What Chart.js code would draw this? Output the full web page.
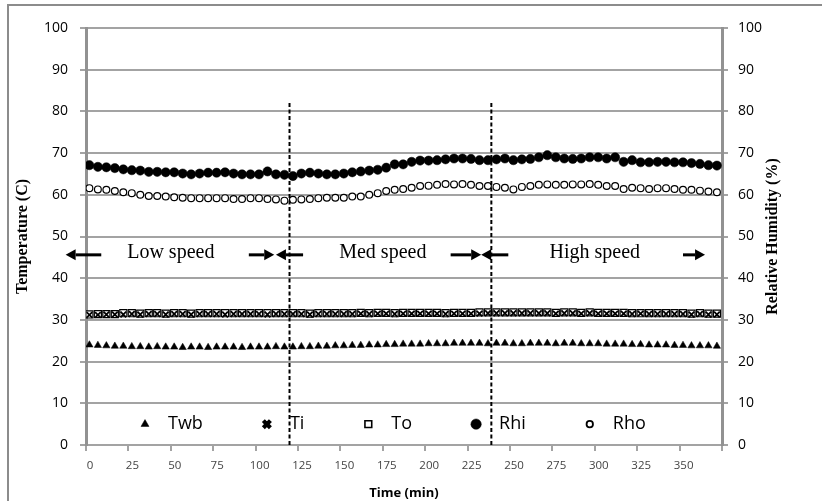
<!DOCTYPE html>
<html>
<head>
<meta charset="utf-8">
<title>Temperature and relative humidity vs time</title>
<script src="https://cdn.jsdelivr.net/npm/chart.js@4.4.1/dist/chart.umd.min.js"></script>
<style>
  html, body { margin: 0; padding: 0; background: #fff; overflow: hidden; }
  #wrap { position: relative; width: 822px; height: 501px; }
</style>
</head>
<body>
<div id="wrap"><canvas id="chart" width="822" height="501"></canvas></div>
<script>
/* ------------------------------------------------------------------ */
/* Data                               */
/* ------------------------------------------------------------------ */
var TIME = [2, 7, 12, 17, 22, 27, 32, 37, 42, 47, 52, 57, 62, 67, 72, 77, 82, 87, 92, 97,
  102, 107, 112, 117, 122, 127, 132, 137, 142, 147, 152, 157, 162, 167, 172, 177, 182, 187, 192, 197,
  202, 207, 212, 217, 222, 227, 232, 237, 242, 247, 252, 257, 262, 267, 272, 277, 282, 287, 292, 297,
  302, 307, 312, 317, 322, 327, 332, 337, 342, 347, 352, 357, 362, 367, 372];

var TWB = [24.0, 23.9, 23.8, 23.7, 23.7, 23.6, 23.6, 23.5, 23.6, 23.5,
  23.5, 23.4, 23.5, 23.5, 23.4, 23.5, 23.5, 23.5, 23.4, 23.5,
  23.5, 23.5, 23.6, 23.5, 23.5, 23.6, 23.6, 23.7, 23.7, 23.8,
  23.8, 23.9, 23.9, 24.0, 24.0, 24.1, 24.1, 24.2, 24.2, 24.2,
  24.3, 24.3, 24.3, 24.4, 24.4, 24.4, 24.4, 24.3, 24.4, 24.4,
  24.3, 24.3, 24.4, 24.4, 24.4, 24.3, 24.4, 24.4, 24.3, 24.3,
  24.3, 24.2, 24.2, 24.2, 24.1, 24.1, 24.0, 24.0, 24.0, 23.9,
  23.9, 23.8, 23.8, 23.8, 23.7];

var TI = [31.2, 31.2, 31.3, 31.3, 31.3, 31.4, 31.3, 31.4, 31.4, 31.3,
  31.4, 31.4, 31.3, 31.4, 31.4, 31.4, 31.3, 31.4, 31.4, 31.4,
  31.4, 31.3, 31.4, 31.4, 31.4, 31.4, 31.3, 31.4, 31.4, 31.4,
  31.4, 31.4, 31.5, 31.4, 31.5, 31.5, 31.4, 31.5, 31.5, 31.5,
  31.5, 31.5, 31.4, 31.5, 31.5, 31.5, 31.5, 31.6, 31.6, 31.6,
  31.6, 31.6, 31.6, 31.6, 31.6, 31.5, 31.6, 31.6, 31.5, 31.6,
  31.5, 31.5, 31.5, 31.5, 31.4, 31.5, 31.4, 31.4, 31.4, 31.4,
  31.4, 31.3, 31.4, 31.3, 31.3];

var TO = [31.3, 31.4, 31.4, 31.4, 31.6, 31.6, 31.5, 31.6, 31.6, 31.5,
  31.6, 31.6, 31.5, 31.6, 31.6, 31.6, 31.6, 31.6, 31.6, 31.6,
  31.6, 31.6, 31.6, 31.6, 31.6, 31.6, 31.5, 31.6, 31.6, 31.6,
  31.6, 31.6, 31.7, 31.6, 31.7, 31.7, 31.6, 31.7, 31.7, 31.7,
  31.7, 31.7, 31.6, 31.7, 31.7, 31.7, 31.8, 31.8, 31.8, 31.8,
  31.8, 31.8, 31.8, 31.8, 31.8, 31.7, 31.8, 31.8, 31.7, 31.8,
  31.7, 31.7, 31.7, 31.7, 31.6, 31.6, 31.6, 31.6, 31.6, 31.6,
  31.6, 31.5, 31.6, 31.5, 31.5];

var RHI = [67.1, 66.7, 66.6, 66.4, 66.1, 65.9, 65.8, 65.5, 65.5, 65.4,
  65.4, 65.1, 64.9, 65.1, 65.3, 65.3, 65.4, 65.1, 64.9, 64.9,
  64.9, 65.6, 64.9, 64.8, 64.5, 65.1, 65.3, 65.1, 64.9, 64.9,
  65.1, 65.4, 65.6, 65.8, 66.0, 66.5, 67.3, 67.3, 67.9, 68.2,
  68.2, 68.3, 68.5, 68.7, 68.7, 68.6, 68.3, 68.3, 68.5, 68.7,
  68.3, 68.5, 68.6, 69.0, 69.5, 69.0, 68.7, 68.6, 68.7, 69.0,
  69.0, 68.7, 69.0, 67.9, 68.3, 67.8, 67.8, 67.9, 67.9, 67.8,
  67.8, 67.6, 67.4, 67.1, 67.0];

var RHO = [61.6, 61.3, 61.2, 60.9, 60.6, 60.4, 60.0, 59.7, 59.7, 59.6,
  59.4, 59.3, 59.2, 59.2, 59.2, 59.2, 59.2, 59.0, 59.0, 59.2,
  59.2, 59.0, 58.9, 58.6, 58.8, 58.9, 59.0, 59.2, 59.3, 59.3,
  59.3, 59.6, 59.6, 60.0, 60.4, 60.9, 61.2, 61.4, 61.7, 62.1,
  62.2, 62.4, 62.6, 62.5, 62.6, 62.4, 62.1, 62.1, 61.9, 61.7,
  61.3, 61.9, 62.1, 62.4, 62.5, 62.4, 62.4, 62.5, 62.5, 62.6,
  62.4, 62.1, 62.1, 61.4, 61.7, 61.6, 61.4, 61.6, 61.6, 61.4,
  61.2, 61.2, 61.0, 60.8, 60.6];

/* fan-speed phases: boundaries (min), label centres (min), arrows (min) */
var PHASE_LINES = [120, 239];
var PHASE_LINE_TOP = 82;
var PHASE_LABELS = ["Low speed", "Med speed", "High speed"];
var PHASE_LABEL_X = [50, 175, 300];
var PHASE_LABEL_Y = 46;
var ARROW_FROM = [9, 96, 128, 215, 249, 352];
var ARROW_TO = [-12, 111, 112, 233, 233, 365];
var ARROW_Y = 45.6;

var X_MAX = 375;
var X_STEP = 25;
var Y_MAX = 100;
var Y_STEP = 10;

/* ------------------------------------------------------------------ */
/* Helpers                                                             */
/* ------------------------------------------------------------------ */
var GRID = "#a3a3a3";
var AXIS = "#929292";
var SANS = "'Open Sans', 'Liberation Sans', sans-serif";
var SERIF = "'Liberation Serif', 'DejaVu Serif', serif";

function pts(ys) {
  return TIME.map(function (t, i) { return { x: t, y: ys[i] }; });
}

function vline(x) {
  return {
    data: [{ x: x, y: 0 }, { x: x, y: PHASE_LINE_TOP }],
    showLine: true,
    borderColor: "#000",
    borderWidth: 2,
    borderDash: [4, 2.5],
    pointRadius: 0,
    order: -1,
  };
}

function drawArrow(ctx, x0, x1, y) {
  var dir = x1 > x0 ? 1 : -1;
  var head = 10;
  ctx.save();
  ctx.strokeStyle = "#000";
  ctx.fillStyle = "#000";
  ctx.lineWidth = 3;
  ctx.beginPath();
  ctx.moveTo(x0, y);
  ctx.lineTo(x1 - dir * head, y);
  ctx.stroke();
  ctx.beginPath();
  ctx.moveTo(x1, y);
  ctx.lineTo(x1 - dir * head, y - 5.5);
  ctx.lineTo(x1 - dir * head, y + 5.5);
  ctx.closePath();
  ctx.fill();
  ctx.restore();
}

/* background frame, phase annotations, in-plot legend, right title */
var decor = {
  id: "decor",
  beforeDraw: function (chart) {
    var ctx = chart.ctx;
    ctx.save();
    ctx.fillStyle = "#fff";
    ctx.fillRect(0, 0, chart.width, chart.height);
    ctx.strokeStyle = "#8c8c8c";
    ctx.lineWidth = 2;
    ctx.strokeRect(8, 5, chart.width + 20, chart.height + 20);
    ctx.restore();
  },
  afterDraw: function (chart) {
    var ctx = chart.ctx;
    var xs = chart.scales.x, ys = chart.scales.y;

    ARROW_FROM.forEach(function (f, i) {
      drawArrow(ctx, xs.getPixelForValue(f), xs.getPixelForValue(ARROW_TO[i]), ys.getPixelForValue(ARROW_Y));
    });

    ctx.save();
    ctx.fillStyle = "#000";
    ctx.font = "20px " + SERIF;
    ctx.textAlign = "center";
    ctx.textBaseline = "middle";
    PHASE_LABELS.forEach(function (t, i) {
      ctx.fillText(t, xs.getPixelForValue(PHASE_LABEL_X[i]), ys.getPixelForValue(PHASE_LABEL_Y));
    });
    ctx.restore();

    /* legend inside the plot, along the bottom */
    ctx.save();
    ctx.font = "18px " + SANS;
    ctx.textBaseline = "middle";
    ctx.textAlign = "left";
    var lx = 145, ly = ys.getPixelForValue(5);
    chart.data.datasets.forEach(function (ds) {
      if (!ds.label) return;
      ctx.save();
      ctx.fillStyle = ds.pointBackgroundColor;
      ctx.strokeStyle = ds.pointBorderColor;
      ctx.lineWidth = ds.legendBorder;
      Chart.helpers.drawPoint(ctx, { pointStyle: ds.pointStyle, radius: ds.legendRadius, borderWidth: ds.legendBorder, rotation: 0 }, lx, ly);
      ctx.restore();
      ctx.fillStyle = "#000";
      ctx.fillText(ds.label, lx + 23, ly);
      lx += 23 + ctx.measureText(ds.label).width + 64;
    });
    ctx.restore();

    /* right axis title, reading upwards */
    ctx.save();
    ctx.translate(773, (chart.chartArea.top + chart.chartArea.bottom) / 2);
    ctx.rotate(-Math.PI / 2);
    ctx.font = "bold 16px " + SERIF;
    ctx.fillStyle = "#000";
    ctx.textAlign = "center";
    ctx.textBaseline = "middle";
    ctx.fillText("Relative Humidity (%)", 0, 0);
    ctx.restore();
  },
};

/* ------------------------------------------------------------------ */
/* Chart                                                               */
/* ------------------------------------------------------------------ */
new Chart(document.getElementById("chart"), {
  type: "scatter",
  data: {
    datasets: [
      { label: "Twb", data: pts(TWB), pointStyle: "triangle", pointRadius: 4.2, pointBackgroundColor: "#000", pointBorderColor: "#000", pointBorderWidth: 0.5, legendRadius: 4.6, legendBorder: 0.5, order: 5 },
      { label: "Ti", data: pts(TI), pointStyle: "crossRot", pointRadius: 4, pointBackgroundColor: "#000", pointBorderColor: "#000", pointBorderWidth: 1.8, legendRadius: 5, legendBorder: 4.2, order: 3 },
      { label: "To", data: pts(TO), pointStyle: "rect", pointRadius: 5, pointBackgroundColor: "#fff", pointBorderColor: "#000", pointBorderWidth: 1.2, legendRadius: 4.8, legendBorder: 1.6, order: 4 },
      { label: "Rhi", data: pts(RHI), yAxisID: "y1", pointStyle: "circle", pointRadius: 4.6, pointBackgroundColor: "#000", pointBorderColor: "#000", pointBorderWidth: 0.5, legendRadius: 5.2, legendBorder: 0.5, order: 2 },
      { label: "Rho", data: pts(RHO), yAxisID: "y1", pointStyle: "circle", pointRadius: 3.4, pointBackgroundColor: "#fff", pointBorderColor: "#000", pointBorderWidth: 1.2, legendRadius: 3.2, legendBorder: 1.8, order: 1 },
      vline(PHASE_LINES[0]),
      vline(PHASE_LINES[1]),
    ],
  },
  options: {
    responsive: false,
    animation: false,
    devicePixelRatio: 1,
    layout: { padding: { top: 28, left: 0, right: 0, bottom: 0 } },
    plugins: { legend: { display: false }, tooltip: { enabled: false } },
    scales: {
      x: {
        type: "linear",
        min: 0,
        max: X_MAX,
        border: { color: GRID, width: 2 },
        grid: { drawOnChartArea: false, color: GRID, lineWidth: 2, tickLength: 6 },
        ticks: {
          stepSize: X_STEP,
          autoSkip: false,
          maxRotation: 0,
          padding: 8,
          labelOffset: 4,
          color: "#444",
          font: { family: SANS, size: 11.5 },
          callback: function (v) { return v >= X_MAX ? "" : v; },
        },
        title: { display: true, text: "Time (min)", color: "#000", font: { family: SANS, size: 13, weight: "bold" }, padding: { top: 2, bottom: 0 } },
        afterFit: function (s) { s.height = 56; },
      },
      y: {
        position: "left",
        min: 0,
        max: Y_MAX,
        border: { color: AXIS, width: 3 },
        grid: { color: GRID, lineWidth: 2, tickLength: 6 },
        ticks: { stepSize: Y_STEP, padding: 12, color: "#000", font: { family: SANS, size: 14 } },
        title: { display: true, text: "Temperature (C)", color: "#000", font: { family: SERIF, size: 16, weight: "bold" }, padding: { top: 13, bottom: 0 } },
        afterFit: function (s) { s.width = 86; },
      },
      y1: {
        position: "right",
        min: 0,
        max: Y_MAX,
        border: { color: AXIS, width: 3 },
        grid: { drawOnChartArea: false, color: GRID, lineWidth: 2, tickLength: 6 },
        ticks: { stepSize: Y_STEP, padding: 10, color: "#000", font: { family: SANS, size: 14 } },
        afterFit: function (s) { s.width = 100; },
      },
    },
  },
  plugins: [decor],
});
</script>
</body>
</html>
